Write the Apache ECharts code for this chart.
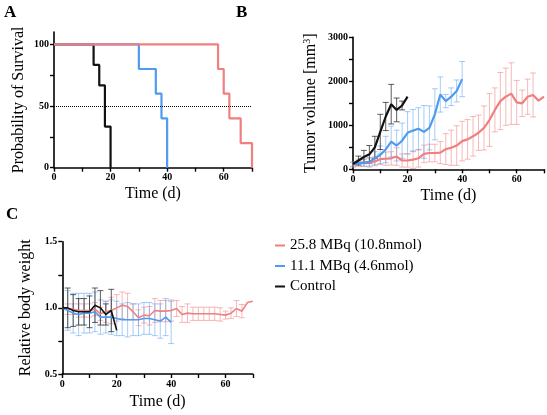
<!DOCTYPE html>
<html lang="en">
<head>
<meta charset="UTF-8">
<title>Survival, tumor volume and body weight</title>
<script src="https://cdn.jsdelivr.net/npm/echarts@6/dist/echarts.min.js"></script>
<style>
  html, body { margin: 0; padding: 0; background: #fff; }
  #chart { width: 547px; height: 415px; }
</style>
</head>
<body>
<div id="chart"></div>
<script>
// group names
const groupNames = ['25.8 MBq (10.8nmol)', '11.1 MBq (4.6nmol)', 'Control'];

// A: Kaplan-Meier survival (step changes)
const survDaysHigh = [0, 58, 60, 62, 66, 70];
const survHigh = [100, 80, 60, 40, 20, 0];
const survDaysLow = [0, 30, 36, 38, 40];
const survLow = [100, 80, 60, 40, 0];
const survDaysCtrl = [0, 14, 16, 18, 20];
const survCtrl = [100, 83.3, 66.7, 33.3, 0];
const survTicks = [0, 25, 50, 75, 100];
const survLabels = [0, 50, 100];

// B: tumor volume (mm3), measured every 2 days
const daysHigh = [0,2,4,6,8,10,12,14,16,18,20,22,24,26,28,30,32,34,36,38,40,42,44,46,48,50,52,54,56,58,60,62,64,66,68,70];
const daysLow = [0,2,4,6,8,10,12,14,16,18,20,22,24,26,28,30,32,34,36,38,40];
const daysCtrl = [0,2,4,6,8,10,12,14,16,18,20];

const volHigh = [100,150,150,150,180,230,240,250,290,200,200,220,250,350,370,370,380,460,490,540,640,680,750,830,940,1120,1350,1550,1650,1720,1520,1500,1650,1690,1560,1650];
const volHighSd = [50,80,80,100,100,120,150,150,200,150,150,200,200,200,200,200,250,350,400,450,450,450,450,400,500,600,500,650,650,700,500,300,400,500,0,0];
const volLow = [120,140,150,170,250,330,450,630,540,650,830,880,920,850,940,1250,1700,1550,1650,1780,2050];
const volLowSd = [50,60,80,100,150,200,300,350,350,400,480,480,480,600,500,580,400,150,200,250,400];
const volCtrl = [120,200,280,340,500,850,1200,1480,1350,1450,1650];
const volCtrlSd = [0,100,150,200,250,400,320,450,270,100,0];

// C: relative body weight
const bwHigh = [1.00,0.99,0.99,0.98,0.98,0.98,0.99,0.955,0.97,0.98,1.00,1.02,1.01,0.97,0.925,0.945,0.94,0.98,0.975,0.975,0.98,0.995,0.95,0.96,0.955,0.955,0.955,0.955,0.955,0.95,0.945,0.96,0.995,0.975,1.04,1.05];
const bwHighSd = [0,0.04,0.04,0.05,0.05,0.05,0.05,0.05,0.08,0.1,0.1,0.1,0.1,0.06,0.06,0.06,0.07,0.09,0.08,0.08,0.08,0.06,0.06,0.07,0.05,0.05,0.05,0.05,0.05,0.05,0.03,0.04,0.06,0.05,0,0];
const bwLow = [1.00,0.98,0.96,0.95,0.96,0.96,0.97,0.93,0.93,0.93,0.92,0.91,0.91,0.91,0.91,0.92,0.92,0.91,0.90,0.93,0.89];
const bwLowSd = [0,0.15,0.15,0.16,0.15,0.15,0.15,0.13,0.12,0.13,0.13,0.12,0.13,0.12,0.12,0.12,0.12,0.12,0.13,0.14,0.16];
const bwCtrl = [1.00,1.00,0.98,0.97,0.97,0.97,1.02,1.00,0.95,0.98,0.83];
const bwCtrlSd = [0,0.15,0.12,0.1,0.1,0.12,0.13,0.13,0.08,0.16,0];

const RED = '#f07f7f', BLUE = '#4e9bf0', BLACK = '#111';
const RED_ERR = 'rgba(240,128,128,0.55)', BLUE_ERR = 'rgba(78,155,240,0.5)', BLACK_ERR = 'rgba(40,40,40,0.75)';
const FONT = 'Liberation Serif';

const pairs = (xs, ys) => xs.map((x, i) => [x, ys[i]]);

function lineSeries(name, xs, ys, color, gi, width, extra) {
  return Object.assign({
    name: name, type: 'line', xAxisIndex: gi, yAxisIndex: gi,
    data: pairs(xs, ys), symbol: 'none', showSymbol: false,
    lineStyle: { color: color, width: width }, itemStyle: { color: color },
    z: 3, animation: false, silent: true
  }, extra || {});
}

function errSeries(xs, ys, sd, color, gi) {
  return {
    name: 'err', type: 'custom', xAxisIndex: gi, yAxisIndex: gi,
    data: xs.map((x, i) => [x, ys[i], sd[i]]),
    z: 2, animation: false, silent: true,
    renderItem: function (params, api) {
      const x = api.value(0), y = api.value(1), s = api.value(2);
      if (!s) return;
      const top = api.coord([x, y + s]);
      const bot = api.coord([x, y - s]);
      const w = 3;
      const st = { stroke: color, lineWidth: 1 };
      return {
        type: 'group',
        children: [
          { type: 'line', shape: { x1: top[0], y1: top[1], x2: bot[0], y2: bot[1] }, style: st },
          { type: 'line', shape: { x1: top[0] - w, y1: top[1], x2: top[0] + w, y2: top[1] }, style: st },
          { type: 'line', shape: { x1: bot[0] - w, y1: bot[1], x2: bot[0] + w, y2: bot[1] }, style: st }
        ]
      };
    }
  };
}

const axisLine = { show: true, lineStyle: { color: '#000', width: 1.6 } };
const tickLabel = { color: '#000', fontFamily: FONT, fontWeight: 'bold', fontSize: 10, margin: 5 };
const nameStyle = { color: '#000', fontFamily: FONT, fontSize: 16 };

function xAxisDef(gi, gap) {
  return {
    type: 'value', gridIndex: gi, min: 0, max: 70, interval: 10,
    axisLine: axisLine,
    axisTick: { show: true, length: 4, lineStyle: { color: '#000', width: 1.4 } },
    axisLabel: Object.assign({}, tickLabel, { formatter: v => (v % 20 === 0 ? String(v) : '') }),
    splitLine: { show: false },
    name: 'Time (d)', nameLocation: 'middle', nameGap: gap, nameTextStyle: nameStyle
  };
}

const chart = echarts.init(document.getElementById('chart'), null, { renderer: 'canvas' });

chart.setOption({
  backgroundColor: '#fff',
  animation: false,
  textStyle: { fontFamily: FONT },
  grid: [
    { left: 54, top: 32, width: 198, height: 135.7 },
    { left: 353, top: 37.3, width: 191.7, height: 132 },
    { left: 62.3, top: 241.7, width: 190.5, height: 132.3 }
  ],
  xAxis: [xAxisDef(0, 18), xAxisDef(1, 18), xAxisDef(2, 20)],
  yAxis: [
    {
      type: 'value', gridIndex: 0, min: 0, max: 110,
      axisLine: axisLine,
      axisTick: { show: true, length: 4, customValues: survTicks, lineStyle: { color: '#000', width: 1.4 } },
      axisLabel: Object.assign({}, tickLabel, { customValues: survLabels }),
      splitLine: { show: false },
      name: 'Probability of Survival', nameLocation: 'middle', nameGap: 27, nameTextStyle: nameStyle
    },
    {
      type: 'value', gridIndex: 1, min: 0, max: 3000, interval: 500,
      axisLine: axisLine,
      axisTick: { show: true, length: 4, lineStyle: { color: '#000', width: 1.4 } },
      axisLabel: Object.assign({}, tickLabel, { formatter: v => (v % 1000 === 0 ? String(v) : '') }),
      splitLine: { show: false },
      name: '{a|Tumor volume [mm}{s|3}{a|]}', nameLocation: 'middle', nameGap: 33,
      nameTextStyle: {
        rich: {
          a: { fontFamily: FONT, fontSize: 16, color: '#000' },
          s: { fontFamily: FONT, fontSize: 10, color: '#000', verticalAlign: 'top', padding: [0, 0, 8, 0] }
        }
      }
    },
    {
      type: 'value', gridIndex: 2, min: 0.5, max: 1.5, interval: 0.25,
      axisLine: axisLine,
      axisTick: { show: true, length: 4, lineStyle: { color: '#000', width: 1.4 } },
      axisLabel: Object.assign({}, tickLabel, {
        formatter: v => (Math.abs(v * 2 - Math.round(v * 2)) < 1e-6 ? v.toFixed(1) : '')
      }),
      splitLine: { show: false },
      name: 'Relative body weight', nameLocation: 'middle', nameGap: 29, nameTextStyle: nameStyle
    }
  ],
  legend: {
    data: groupNames, orient: 'vertical', left: 270, top: 233,
    icon: 'rect', itemWidth: 10, itemHeight: 2, itemGap: 5.5,
    textStyle: { fontFamily: FONT, fontSize: 15, color: '#000' },
    selectedMode: false
  },
  graphic: [
    { type: 'text', left: 4, top: 4, style: { text: 'A', font: 'bold 17px "Liberation Serif"', fill: '#000' } },
    { type: 'text', left: 236, top: 4, style: { text: 'B', font: 'bold 17px "Liberation Serif"', fill: '#000' } },
    { type: 'text', left: 6, top: 206, style: { text: 'C', font: 'bold 17px "Liberation Serif"', fill: '#000' } }
  ],
  series: [
    // A
    lineSeries(groupNames[2], survDaysCtrl, survCtrl, BLACK, 0, 2.2, { step: 'end' }),
    lineSeries(groupNames[1], survDaysLow, survLow, BLUE, 0, 2.2, { step: 'end' }),
    lineSeries(groupNames[0], survDaysHigh, survHigh, RED, 0, 2.2, {
      step: 'end',
      markLine: {
        symbol: 'none', silent: true, label: { show: false },
        lineStyle: { type: 'dotted', color: '#000', width: 1 },
        data: [{ yAxis: 50 }]
      }
    }),
    // B
    errSeries(daysHigh, volHigh, volHighSd, RED_ERR, 1),
    errSeries(daysLow, volLow, volLowSd, BLUE_ERR, 1),
    errSeries(daysCtrl, volCtrl, volCtrlSd, BLACK_ERR, 1),
    lineSeries(groupNames[0], daysHigh, volHigh, RED, 1, 2.2),
    lineSeries(groupNames[1], daysLow, volLow, BLUE, 1, 2.2),
    lineSeries(groupNames[2], daysCtrl, volCtrl, BLACK, 1, 2.2),
    // C
    errSeries(daysHigh, bwHigh, bwHighSd, RED_ERR, 2),
    errSeries(daysLow, bwLow, bwLowSd, BLUE_ERR, 2),
    errSeries(daysCtrl, bwCtrl, bwCtrlSd, BLACK_ERR, 2),
    lineSeries(groupNames[0], daysHigh, bwHigh, RED, 2, 1.6),
    lineSeries(groupNames[1], daysLow, bwLow, BLUE, 2, 1.6),
    lineSeries(groupNames[2], daysCtrl, bwCtrl, BLACK, 2, 1.6)
  ]
});
</script>
</body>
</html>
